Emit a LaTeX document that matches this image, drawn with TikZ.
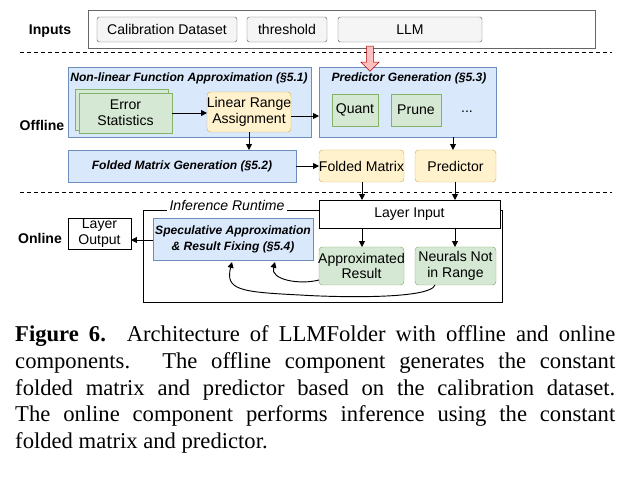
\documentclass[tikz,border=0pt]{standalone}
\usepackage{fontspec}
\setmainfont{Liberation Serif}
\newfontfamily\diagfont{Liberation Sans}
\usetikzlibrary{arrows.meta,shapes.arrows}
\definecolor{bluefill}{HTML}{DAE8FC}\definecolor{bluedraw}{HTML}{6C8EBF}
\definecolor{greenfill}{HTML}{D5E8D4}\definecolor{greendraw}{HTML}{82B366}
\definecolor{yellowfill}{HTML}{FFF2CC}\definecolor{yellowdraw}{HTML}{D6B656}
\definecolor{grayfill}{HTML}{F5F5F5}\definecolor{graydraw}{HTML}{666666}
\tikzset{
    txt/.style={font=\diagfont\fontsize{12}{13.5}\selectfont, align=center},
    inbox/.style={txt, draw=graydraw, fill=grayfill, rounded corners=2pt},
    bluebox/.style={draw=bluedraw, fill=bluefill},
    greenbox/.style={txt, draw=greendraw, fill=greenfill},
    yellowbox/.style={txt, draw=yellowdraw, fill=yellowfill, rounded corners=3pt},
    plainbox/.style={txt, draw=black, fill=white},
    title/.style={txt, font=\diagfont\bfseries\itshape\fontsize{10.3}{13.5}\selectfont},
    lbl/.style={txt, font=\diagfont\bfseries\fontsize{12}{14}\selectfont},
    arr/.style={-{Triangle[length=5pt,width=5pt]}, thick},
}
\begin{document}
\begin{tikzpicture}[x=0.03cm, y=-0.03cm]
    \useasboundingbox (0,0) rectangle (630,479);

    % inputs
    \draw[graydraw, thick] (88,10) rectangle (595,48);
    \node[lbl] (inputs) at (50,31) {Inputs};
    \draw[inbox] (97,17) rectangle node[txt] (calib) {Calibration Dataset} (237,42);
    \draw[inbox] (247,17) rectangle node[txt] (thresh) {threshold} (327,42);
    \draw[inbox] (338,17) rectangle node[txt] (llm) {LLM} (482,42);

    \draw[dashed, thick] (20,52) -- (612,52);
    \draw[dashed, thick] (20,192) -- (612,192);

    % offline
    \node[lbl] (offline) at (42,125) {Offline};
    \draw[bluebox] (68,67) rectangle (311,137);
    \node[title] (nfa) at (189,78) {Non-linear Function Approximation (§5.1)};
    \draw[greenbox] (75,89) rectangle (168,130);
    \draw[greenbox] (79,93) rectangle node[txt] (err) {Error\\Statistics} (172,133);
    \draw[yellowbox] (207,92) rectangle node[txt] (lra) {Linear Range\\Assignment} (291,132);
    \draw[bluebox] (319,67) rectangle (496,137);
    \node[title] (pg) at (409,78) {Predictor Generation (§5.3)};
    \draw[greenbox] (332,94) rectangle node[txt] (quant) {Quant} (378,126);
    \draw[greenbox] (391,94) rectangle node[txt] (prune) {Prune} (441,126);
    \node[txt] (dots) at (467,112) {...};
    \draw[bluebox] (68,150) rectangle node[title] (fmg) {Folded Matrix Generation (§5.2)} (296,182);
    \draw[yellowbox] (319,150) rectangle node[txt] (fm) {Folded Matrix} (404,182);
    \draw[yellowbox] (415,150) rectangle node[txt] (pred) {Predictor} (496,182);

    % threshold arrow
    \node[single arrow, draw=red!70!black, fill=red!25, shape border rotate=270,
          minimum height=0.75cm, minimum width=0.55cm, single arrow head extend=2pt,
          inner sep=1pt] (tharr) at (370,57) {};

    \draw[arr] (172,113) -- (207,113);
    \draw[arr] (291,116) -- (319,116);
    \draw[arr] (249,132) -- (249,150);
    \draw[arr] (296,166) -- (319,166);
    \draw[arr] (453,137) -- (453,150);

    % online
    \node[lbl] (online) at (40,238) {Online};
    \draw[thick] (143,210) rectangle (502,302);
    \node[txt, font=\diagfont\itshape\fontsize{12}{13.5}\selectfont, fill=white, inner sep=2pt] (ir) at (227,205) {Inference Runtime};
    \draw[plainbox, thick] (319,200) rectangle node[txt] (li) {Layer Input} (500,228);
    \draw[plainbox, thick] (68,218) rectangle node[txt] (lo) {Layer\\Output} (131,249);
    \draw[bluebox] (153,218) rectangle node[title] (spec) {Speculative Approximation\\\& Result Fixing (§5.4)} (313,260);
    \draw[greenbox, rounded corners=3pt] (319,247) rectangle node[txt] (approx) {Approximated\\Result} (404,285);
    \draw[greenbox, rounded corners=3pt] (415,247) rectangle node[txt] (nir) {Neurals Not\\in Range} (496,285);

    \draw[arr] (362,182) -- (362,200);
    \draw[arr] (455,182) -- (455,200);
    \draw[arr] (362,228) -- (362,247);
    \draw[arr] (455,228) -- (455,247);
    \draw[arr] (153,240) -- (131,240);
    \draw[arr] (319,280) .. controls (300,285) and (270,280) .. (275,262);
    \draw[arr] (435,285) .. controls (430,300) and (330,297) .. (300,295)
               .. controls (240,292) and (225,290) .. (232,262);

    % caption
    \node[anchor=north west, text width=18cm, align=justify, inner sep=0pt,
          font=\fontsize{19.3}{23}\selectfont] (caption) at (15,325)
        {\textbf{Figure 6.} Architecture of LLMFolder with offline and online\linebreak
         components. The offline component generates the constant\linebreak
         folded matrix and predictor based on the calibration dataset.\linebreak
         The online component performs inference using the constant\linebreak
         folded matrix and predictor.};
\end{tikzpicture}
\end{document}
